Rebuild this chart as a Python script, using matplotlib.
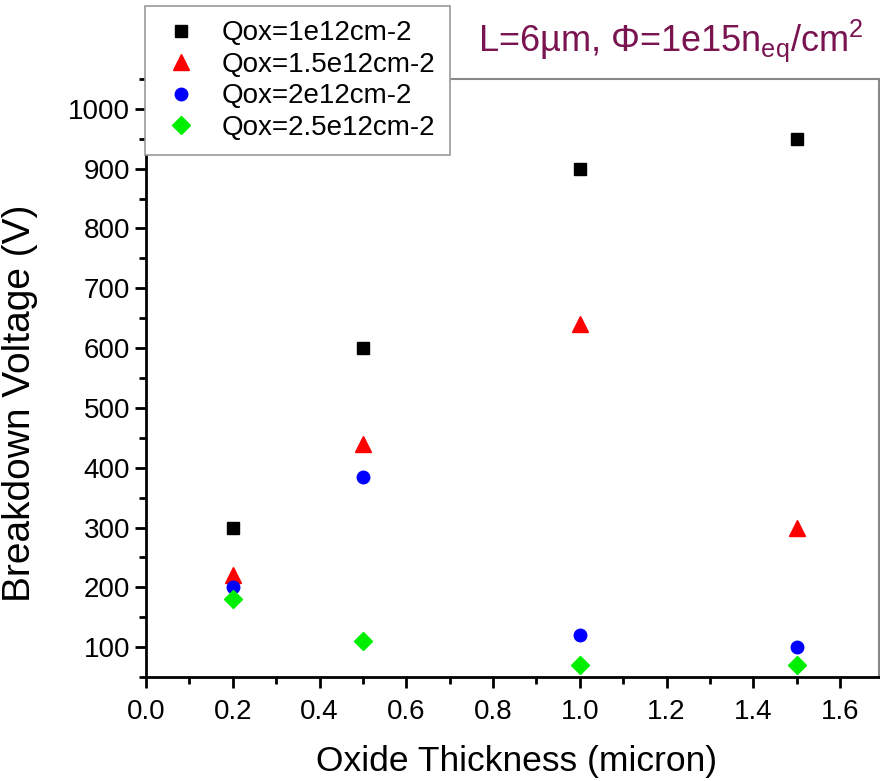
import numpy as np
import matplotlib
matplotlib.use('Agg')
import matplotlib.pyplot as plt
from matplotlib.ticker import MultipleLocator

plt.rcParams['font.family'] = ['Liberation Sans', 'DejaVu Sans']
plt.rcParams['mathtext.default'] = 'regular'

# data
thickness = [0.2, 0.5, 1.0, 1.5]
v_q1 = [300, 600, 900, 950]
v_q15 = [220, 440, 640, 300]
v_q2 = [200, 385, 120, 100]
v_q25 = [180, 110, 70, 70]
labels = ['Qox=1e12cm-2', 'Qox=1.5e12cm-2', 'Qox=2e12cm-2', 'Qox=2.5e12cm-2']

fig = plt.figure(figsize=(8.8, 7.81), dpi=100)
ax = fig.add_axes([0.166, 0.133, 0.833, 0.766])

ax.plot(thickness, v_q1, 's', color='black', markersize=9, label=labels[0])
ax.plot(thickness, v_q15, '^', color='red', markersize=11, label=labels[1])
ax.plot(thickness, v_q2, 'o', color='blue', markersize=9, label=labels[2])
ax.plot(thickness, v_q25, 'D', color='#00ee00', markersize=9, label=labels[3])

ax.set_xlim(0, 1.69)
ax.set_ylim(50, 1050)
ax.xaxis.set_major_locator(MultipleLocator(0.2))
ax.xaxis.set_minor_locator(MultipleLocator(0.1))
ax.yaxis.set_minor_locator(MultipleLocator(50))
ax.xaxis.set_major_formatter(plt.FormatStrFormatter('%.1f'))
ax.set_yticks(np.arange(100, 1001, 100))

ax.tick_params(which='major', direction='out', length=8, width=2, labelsize=20, colors='black')
ax.tick_params(which='minor', direction='out', length=5, width=2)
ax.tick_params(axis='x', pad=8)
for s in ['left', 'bottom']:
    ax.spines[s].set_linewidth(2)
for s in ['top', 'right']:
    ax.spines[s].set_color('#888888')
    ax.spines[s].set_linewidth(1.5)

ax.set_xlabel('Oxide Thickness (micron)', fontsize=25.5)
ax.xaxis.set_label_coords(0.506, -0.113)
ax.set_ylabel('Breakdown Voltage (V)', fontsize=28)
ax.yaxis.set_label_coords(-0.147, 0.458)

leg = ax.legend(loc='upper left', bbox_to_anchor=(-0.001, 1.121), fontsize=20,
                frameon=True, fancybox=False, edgecolor='#999999', framealpha=1,
                borderpad=0.5, labelspacing=0.2, handletextpad=0.66, borderaxespad=0,
                handlelength=1.6)
leg.get_frame().set_linewidth(1.2)
leg.set_zorder(5)

ax.text(0.978, 1.025, r'L=6µm, Φ=1e15n$_{eq}$/cm$^{2}$', transform=ax.transAxes,
        ha='right', va='bottom', fontsize=26, color='#7a1450')

fig.savefig('out.png', dpi=100)
